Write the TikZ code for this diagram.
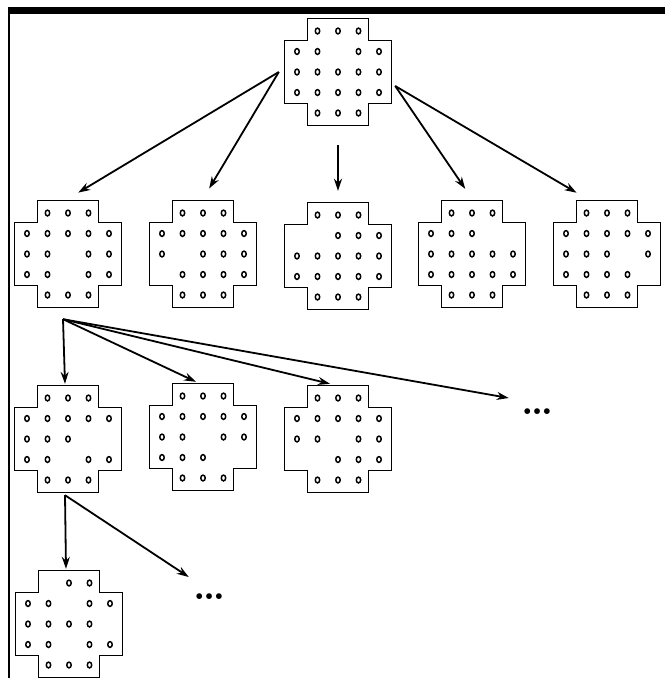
\documentclass[tikz,border=0pt]{standalone}
\usetikzlibrary{arrows.meta, calc}
\tikzset{%
    brd/.style={line width=0.9pt},
    hol/.style={line width=1.5pt},
    bnode/.style={rectangle, minimum width=106pt, minimum height=110pt, inner sep=0pt},
    pria/.style={line width=1.8pt, -{Stealth[length=12pt, width=8pt]}},
    dts/.style={inner sep=1pt, font=\fontsize{40}{40}\selectfont\bfseries},
    fra/.style={line width=7pt},
    frb/.style={line width=2pt},
}
% one board: name, x, y, filled holes of rows 1..5
\newcommand{\board}[8]{%
  \node[bnode] (#1) at (#2,#3) {};
  \begin{scope}[shift={(#1.center)}, x=20.5pt, y=-20.5pt]
    \draw[brd] (-1.5,-2.6) -- (1.5,-2.6) -- (1.5,-1.55) -- (2.6,-1.55) -- (2.6,1.55)
      -- (1.5,1.55) -- (1.5,2.6) -- (-1.5,2.6) -- (-1.5,1.55) -- (-2.6,1.55)
      -- (-2.6,-1.55) -- (-1.5,-1.55) -- cycle;
    \foreach \c in {#4} \draw[hol] (\c-3,-2) ellipse [x radius=2.2pt, y radius=2.9pt];
    \foreach \c in {#5} \draw[hol] (\c-3,-1) ellipse [x radius=2.2pt, y radius=2.9pt];
    \foreach \c in {#6} \draw[hol] (\c-3,0) ellipse [x radius=2.2pt, y radius=2.9pt];
    \foreach \c in {#7} \draw[hol] (\c-3,1) ellipse [x radius=2.2pt, y radius=2.9pt];
    \foreach \c in {#8} \draw[hol] (\c-3,2) ellipse [x radius=2.2pt, y radius=2.9pt];
  \end{scope}
}
\begin{document}
\begin{tikzpicture}[x=1pt, y=-1pt]
    \useasboundingbox (0,0) rectangle (665,678);
    \draw[fra] (8,10) -- (665,10);
    \draw[frb] (9,10) -- (9,678);

    % start position
    \board{r}{338}{72}{2,3,4}{1,2,4,5}{1,2,3,4,5}{1,2,3,4,5}{2,3,4}
    % first moves
    \board{b1}{68}{254}{2,3,4}{1,2,3,4,5}{1,2,4,5}{1,2,4,5}{2,3,4}
    \board{b2}{203}{254}{2,3,4}{1,2,3,4,5}{1,3,4,5}{2,3,4,5}{2,3,4}
    \board{b3}{338}{256}{2,3,4}{3,4,5}{1,2,3,4,5}{1,2,3,4,5}{2,3,4}
    \board{b4}{472}{254}{2,3,4}{1,2,3}{1,2,3,4,5}{1,2,3,4,5}{2,3,4}
    \board{b5}{607}{254}{2,3,4}{1,2,3,4,5}{1,2,3,5}{1,2,3,4}{2,3,4}
    % second moves
    \board{c1}{68}{439}{2,3,4}{1,2,3,4,5}{1,2,3}{1,2,4,5}{2,3,4}
    \board{c2}{203}{437}{2,3,4}{1,2,3,4,5}{1,2,4,5}{1,2,3}{2,3,4}
    \board{c3}{338}{439}{2,3,4}{1,2,3,4,5}{1,2,4,5}{3,4,5}{2,3,4}
    \node[dts] (m1) at (538,412) {\dots};
    % third move
    \board{d1}{69}{624}{3,4}{1,2,4,5}{1,2,3,4}{1,2,4,5}{2,3,4}
    \node[dts] (m2) at (210,597) {\dots};

    \coordinate (rl) at ([shift={(-6,0)}]r.west);
    \coordinate (rr) at ([shift={(4,14)}]r.east);
    \coordinate (rb) at ([shift={(0,18)}]r.south);
    \coordinate (b1s) at ([shift={(-5,10)}]b1.south);
    \coordinate (c1s) at ([shift={(-3,1)}]c1.south);

    \draw[pria, shorten >=12pt] (rl) -- (b1.north);
    \draw[pria, shorten >=12pt] (rl) -- (b2.north);
    \draw[pria, shorten >=10pt] (rb) -- (b3.north);
    \draw[pria, shorten >=12pt] (rr) -- (b4.north);
    \draw[pria, shorten >=12pt] (rr) -- (b5.110);

    \draw[pria] (b1s) -- ([xshift=-3pt]c1.north);
    \draw[pria] (b1s) -- ([xshift=-7pt]c2.north);
    \draw[pria] (b1s) -- ([xshift=-8pt]c3.north);
    \draw[pria] (b1s) -- ([shift={(-12,-14)}]m1.west);

    \draw[pria] (c1s) -- ([xshift=-3pt]d1.north);
    \draw[pria] (c1s) -- ([shift={(-4,-20)}]m2.west);
\end{tikzpicture}
\end{document}
